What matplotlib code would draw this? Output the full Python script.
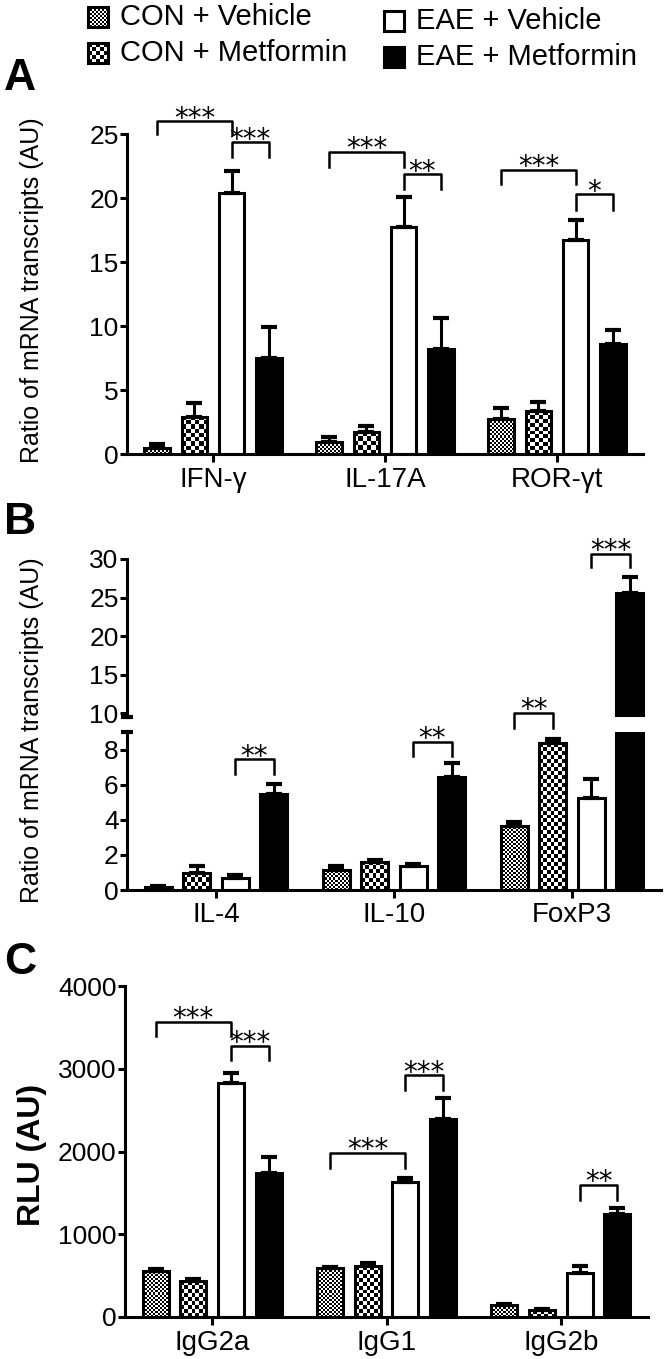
import numpy as np
import matplotlib
matplotlib.use('Agg')
import matplotlib.pyplot as plt
from matplotlib.patches import Rectangle

plt.rcParams['font.family'] = ['Liberation Sans', 'DejaVu Sans']

groups = ['CON + Vehicle', 'CON + Metformin', 'EAE + Vehicle', 'EAE + Metformin']

# Panel A: Th1/Th17 transcripts
genes_a = ['IFN-γ', 'IL-17A', 'ROR-γt']
con_veh_a = [0.5, 0.9, 2.7]
con_veh_a_err = [0.3, 0.4, 0.9]
con_met_a = [2.9, 1.7, 3.35]
con_met_a_err = [1.1, 0.5, 0.7]
eae_veh_a = [20.4, 17.7, 16.7]
eae_veh_a_err = [1.7, 2.4, 1.6]
eae_met_a = [7.5, 8.2, 8.6]
eae_met_a_err = [2.4, 2.4, 1.1]

# Panel B: Th2/Treg transcripts
genes_b = ['IL-4', 'IL-10', 'FoxP3']
con_veh_b = [0.15, 1.15, 3.65]
con_veh_b_err = [0.08, 0.2, 0.25]
con_met_b = [0.95, 1.6, 8.35]
con_met_b_err = [0.4, 0.12, 0.25]
eae_veh_b = [0.7, 1.35, 5.25]
eae_veh_b_err = [0.15, 0.15, 1.1]
eae_met_b = [5.45, 6.45, 25.6]
eae_met_b_err = [0.6, 0.8, 2.0]

# Panel C: antibody isotypes
isotypes_c = ['IgG2a', 'IgG1', 'IgG2b']
con_veh_c = [560, 590, 140]
con_veh_c_err = [15, 20, 15]
con_met_c = [435, 615, 80]
con_met_c_err = [30, 40, 12]
eae_veh_c = [2825, 1630, 535]
eae_veh_c_err = [120, 50, 80]
eae_met_c = [1740, 2395, 1245]
eae_met_c_err = [195, 250, 70]

# significance brackets: (category, bar i, bar j, top, leg drop, label)
sig_a = [(0, 0, 2, 26.0, 1.0, '***'), (0, 2, 3, 24.35, 1.15, '***'),
         (1, 0, 2, 23.6, 1.2, '***'), (1, 2, 3, 21.85, 1.15, '**'),
         (2, 0, 2, 22.2, 1.1, '***'), (2, 2, 3, 20.3, 1.2, '*')]
sig_b_low = [(0, 2, 3, 7.45, 0.85, '**'), (1, 2, 3, 8.45, 0.8, '**'),
             (2, 0, 1, 10.1, 0.85, '**')]
sig_b_up = [(2, 2, 3, 30.7, 1.8, '***')]
sig_c = [(0, 0, 2, 3570, 170, '***'), (0, 2, 3, 3280, 175, '***'),
         (1, 0, 2, 1985, 180, '***'), (1, 2, 3, 2925, 185, '***'),
         (2, 2, 3, 1600, 190, '**')]

W, H = 664, 1359
offsets = np.array([-0.324, -0.108, 0.108, 0.324])
bar_w = 0.15
LW = 2.2


def px_rect(left, top, right, bottom):
    return [left / W, 1 - bottom / H, (right - left) / W, (bottom - top) / H]


def checker_fill(ax, bar, cell):
    x0, y0 = bar.get_xy()
    x1, y1 = x0 + bar.get_width(), y0 + bar.get_height()
    (px0, py0), (px1, py1) = ax.transData.transform([(x0, y0), (x1, y1)])
    nx = max(1, int(round(abs(px1 - px0) / cell)))
    ny = max(1, int(round(abs(py1 - py0) / cell)))
    board = np.add.outer(np.arange(ny), np.arange(nx)) % 2
    im = ax.imshow(board, extent=(x0, x1, y0, y1), cmap='gray', vmin=0, vmax=1,
                   interpolation='nearest', aspect='auto', origin='lower', zorder=1.5)
    # clip with the path so the axes clip box stays in place
    im.set_clip_path(bar.get_path(), bar.get_transform())


def draw_bars(ax, series, errors, ylim):
    n = len(series[0])
    x = np.arange(n)
    ax.set_xlim(-0.5, 2.5)
    ax.set_ylim(*ylim)
    faces = ['none', 'none', 'white', 'black']
    cells = [2, 4, None, None]
    for k, (vals, errs) in enumerate(zip(series, errors)):
        bars = ax.bar(x + offsets[k], vals, bar_w, facecolor=faces[k],
                      edgecolor='black', linewidth=LW, zorder=2)
        if cells[k]:
            for b in bars:
                checker_fill(ax, b, cells[k])
        ax.errorbar(x + offsets[k], vals, yerr=[np.zeros(n), errs], fmt='none',
                    ecolor='black', elinewidth=LW, capsize=6, capthick=3, zorder=3)
    ax.set_xlim(-0.5, 2.5)
    ax.set_ylim(*ylim)


def style_axis(ax, bottom=True):
    for s in ['top', 'right']:
        ax.spines[s].set_visible(False)
    ax.spines['left'].set_linewidth(LW)
    ax.spines['bottom'].set_linewidth(LW)
    ax.spines['bottom'].set_visible(bottom)
    ax.tick_params(axis='y', direction='out', length=5, width=LW, labelsize=19, pad=1)
    ax.tick_params(axis='x', direction='out', length=6, width=LW, labelsize=20, pad=3)


def brackets(ax, sigs, fontsize=20):
    for cat, i, j, top, drop, label in sigs:
        xa, xb = cat + offsets[i], cat + offsets[j]
        ax.plot([xa, xa, xb, xb], [top - drop, top, top, top - drop],
                color='black', lw=1.8, clip_on=False, zorder=4)
        ax.annotate(label, ((xa + xb) / 2, top), xytext=(0, -4),
                    textcoords='offset points', ha='center', va='baseline',
                    fontsize=fontsize, annotation_clip=False, family='DejaVu Sans')


fig = plt.figure(figsize=(W / 100, H / 100), dpi=100)

# legend (drawn by hand so the swatches get the same checker fill)
lax = fig.add_axes([0, 1 - 80 / H, 1, 80 / H])
lax.set_xlim(0, W)
lax.set_ylim(80, 0)
lax.axis('off')
leg_pos = [(88, 17), (88, 53), (384, 21), (384, 57)]
leg_cells = [2, 4, None, None]
leg_faces = ['none', 'none', 'white', 'black']
for name, (lx, ly), cell, face in zip(groups, leg_pos, leg_cells, leg_faces):
    sq = Rectangle((lx, ly - 10), 20, 20, facecolor=face, edgecolor='black',
                   linewidth=LW, zorder=2)
    lax.add_patch(sq)
    if cell:
        checker_fill(lax, sq, cell)
    lax.text(lx + 32, ly, name, fontsize=21, va='center', ha='left')
lax.set_xlim(0, W)
lax.set_ylim(80, 0)

# Panel A
axA = fig.add_axes(px_rect(127, 134, 643, 454))
draw_bars(axA, [con_veh_a, con_met_a, eae_veh_a, eae_met_a],
          [con_veh_a_err, con_met_a_err, eae_veh_a_err, eae_met_a_err], (0, 25))
style_axis(axA)
axA.set_yticks([0, 5, 10, 15, 20, 25])
axA.set_xticks(range(3))
axA.set_xticklabels(genes_a)
brackets(axA, sig_a)

# Panel B (broken axis)
axBu = fig.add_axes(px_rect(127, 559, 661, 717))
axBl = fig.add_axes(px_rect(127, 732, 661, 890))
series_b = [con_veh_b, con_met_b, eae_veh_b, eae_met_b]
errors_b = [con_veh_b_err, con_met_b_err, eae_veh_b_err, eae_met_b_err]
draw_bars(axBu, series_b, errors_b, (9.5, 30))
draw_bars(axBl, series_b, errors_b, (0, 9))
style_axis(axBu, bottom=False)
style_axis(axBl)
axBu.set_yticks([10, 15, 20, 25, 30])
axBu.set_xticks([])
axBl.set_yticks([0, 2, 4, 6, 8])
axBl.set_xticks(range(3))
axBl.set_xticklabels(genes_b)
axBu.plot(0, 0, marker='_', markersize=9, mew=3, color='black',
          transform=axBu.transAxes, clip_on=False)
axBl.plot(0, 1, marker='_', markersize=9, mew=3, color='black',
          transform=axBl.transAxes, clip_on=False)
brackets(axBl, sig_b_low)
brackets(axBu, sig_b_up)

# Panel C
axC = fig.add_axes(px_rect(125, 986, 648, 1317))
draw_bars(axC, [con_veh_c, con_met_c, eae_veh_c, eae_met_c],
          [con_veh_c_err, con_met_c_err, eae_veh_c_err, eae_met_c_err], (0, 4000))
style_axis(axC)
axC.set_yticks([0, 1000, 2000, 3000, 4000])
axC.set_xticks(range(3))
axC.set_xticklabels(isotypes_c)
brackets(axC, sig_c)

# axis titles and panel letters
fig.text(32 / W, 1 - 290 / H, 'Ratio of mRNA transcripts (AU)', rotation=90,
         ha='center', va='center', fontsize=18)
fig.text(32 / W, 1 - 730 / H, 'Ratio of mRNA transcripts (AU)', rotation=90,
         ha='center', va='center', fontsize=18)
fig.text(32 / W, 1 - 1155 / H, 'RLU (AU)', rotation=90, ha='center', va='center',
         fontsize=23, fontweight='bold')
for letter, ly in [('A', 78), ('B', 522), ('C', 962)]:
    fig.text(4 / W, 1 - ly / H, letter, fontsize=32, fontweight='bold',
             ha='left', va='center')

fig.savefig('out.png', dpi=100)
